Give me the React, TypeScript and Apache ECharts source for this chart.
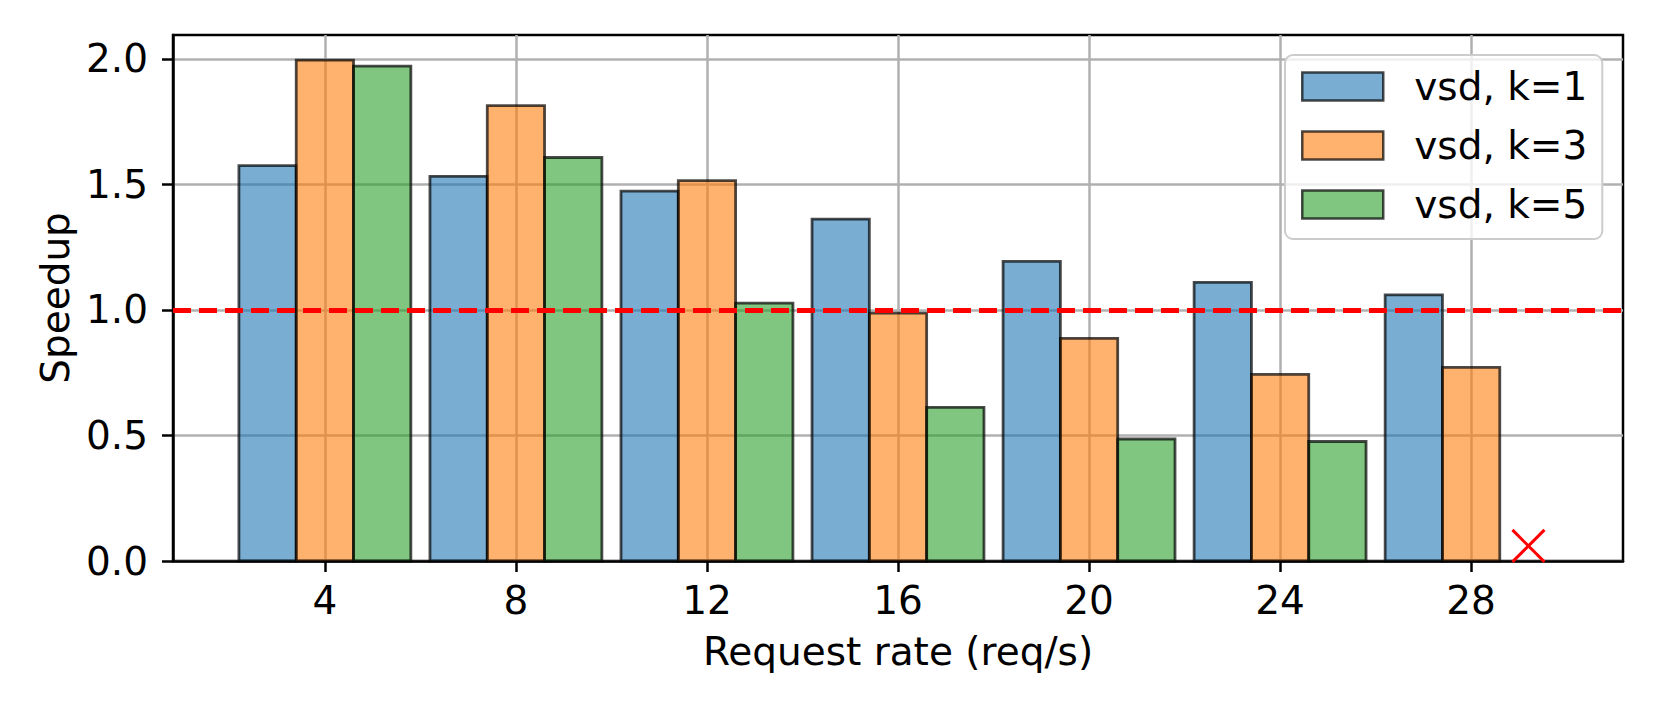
import React, { useEffect, useRef } from "react";
import * as echarts from "echarts";

// ---- data ----
const requestRates = [4, 8, 12, 16, 20, 24, 28];
const speedupK1 = [1.575, 1.532, 1.473, 1.362, 1.193, 1.11, 1.06];
const speedupK3 = [1.995, 1.814, 1.515, 0.987, 0.887, 0.743, 0.771];
const speedupK5: (number | null)[] = [1.971, 1.607, 1.027, 0.612, 0.486, 0.476, null];
const failedPoints = [[29.2, 0.06]];
const seriesNames = ["vsd, k=1", "vsd, k=3", "vsd, k=5"];
const xTicks = [4, 8, 12, 16, 20, 24, 28];
const yTicks = [0, 0.5, 1.0, 1.5, 2.0];
const baselineSpeedup = 1.0;

// ---- layout / style ----
const BAR_WIDTH = 1.2;
const BAR_OFFSETS = [-1.2, 0, 1.2];
const FILLS = ["rgba(31,119,180,0.6)", "rgba(255,127,14,0.6)", "rgba(44,160,44,0.6)"];
const EDGE = "rgba(0,0,0,0.7)";
const FONT = "DejaVu Sans";
const FS = 39;

function barSeries(name: string, values: (number | null)[], offset: number, fill: string) {
  const data: number[][] = [];
  requestRates.forEach((x, i) => {
    const v = values[i];
    if (v !== null && v !== undefined) data.push([x, v]);
  });
  return {
    type: "custom",
    name,
    data,
    encode: { x: 0, y: 1 },
    z: 2,
    renderItem: (_p: any, api: any) => {
      const x = api.value(0);
      const y = api.value(1);
      const a = api.coord([x + offset - BAR_WIDTH / 2, 0]);
      const b = api.coord([x + offset + BAR_WIDTH / 2, y]);
      return {
        type: "rect",
        shape: { x: a[0], y: b[1], width: b[0] - a[0], height: a[1] - b[1] },
        style: { fill, stroke: EDGE, lineWidth: 2.8 },
      };
    },
  };
}

export default function App() {
  const ref = useRef<HTMLDivElement>(null);
  useEffect(() => {
    if (!ref.current) return;
    const chart = echarts.init(ref.current, undefined, { renderer: "svg" });
    const tickLine = { color: "#000", width: 2.5 };
    const grid = { color: "#b0b0b0", width: 2.5 };
    chart.setOption({
      animation: false,
      backgroundColor: "#ffffff",
      textStyle: { fontFamily: FONT },
      grid: {
        left: 173,
        top: 35,
        width: 1450,
        height: 526,
        show: true,
        borderColor: "#000",
        borderWidth: 2.5,
        backgroundColor: "transparent",
      },
      legend: {
        orient: "vertical",
        left: 1285,
        top: 55,
        selectedMode: false,
        data: seriesNames.map((n, i) => ({
          name: n,
          icon: "rect",
          itemStyle: { color: FILLS[i], borderColor: EDGE, borderWidth: 2.5 },
        })),
        itemWidth: 81,
        itemHeight: 28,
        itemGap: 20,
        textStyle: { fontSize: FS, fontFamily: FONT, color: "#000", padding: [0, 0, 0, 26] },
        backgroundColor: "rgba(255,255,255,0.8)",
        borderColor: "#cccccc",
        borderWidth: 2,
        borderRadius: 8,
        padding: [12, 15, 15, 16],
      },
      xAxis: {
        type: "value",
        min: 0.82,
        max: 31.18,
        z: 1,
        name: "Request rate (req/s)",
        nameLocation: "middle",
        nameGap: 71,
        nameTextStyle: { fontSize: FS, fontFamily: FONT, color: "#000" },
        axisLine: { show: true, lineStyle: tickLine },
        axisTick: { show: true, length: 11, lineStyle: tickLine, customValues: xTicks },
        axisLabel: {
          fontSize: FS,
          fontFamily: FONT,
          color: "#000",
          margin: 20,
          customValues: xTicks,
          formatter: (v: number) => String(v),
        },
        splitLine: { show: true, lineStyle: grid },
      },
      yAxis: {
        type: "value",
        min: 0,
        max: 2.095,
        name: "Speedup",
        nameLocation: "middle",
        nameRotate: 90,
        nameGap: 97,
        nameTextStyle: { fontSize: FS, fontFamily: FONT, color: "#000" },
        axisLine: { show: true, lineStyle: tickLine },
        axisTick: { show: true, length: 11, lineStyle: tickLine, customValues: yTicks },
        axisLabel: {
          fontSize: FS,
          fontFamily: FONT,
          color: "#000",
          margin: 25,
          customValues: yTicks,
          formatter: (v: number) => v.toFixed(1),
        },
        splitLine: { show: true, lineStyle: grid },
      },
      series: [
        barSeries(seriesNames[0], speedupK1, BAR_OFFSETS[0], FILLS[0]),
        barSeries(seriesNames[1], speedupK3, BAR_OFFSETS[1], FILLS[1]),
        barSeries(seriesNames[2], speedupK5, BAR_OFFSETS[2], FILLS[2]),
        {
          type: "line",
          data: [],
          z: 5,
          silent: true,
          markLine: {
            silent: true,
            symbol: ["none", "none"],
            label: { show: false },
            lineStyle: { color: "#ff0000", width: 5, type: [18, 8] },
            data: [{ yAxis: baselineSpeedup }],
          },
        },
        {
          type: "custom",
          data: failedPoints,
          encode: { x: 0, y: 1 },
          z: 4,
          renderItem: (_p: any, api: any) => {
            const c = api.coord([api.value(0), api.value(1)]);
            const h = 16;
            const st = { stroke: "#ff0000", lineWidth: 3 };
            return {
              type: "group",
              children: [
                { type: "line", shape: { x1: c[0] - h, y1: c[1] - h, x2: c[0] + h, y2: c[1] + h }, style: st },
                { type: "line", shape: { x1: c[0] - h, y1: c[1] + h, x2: c[0] + h, y2: c[1] - h }, style: st },
              ],
            };
          },
        },
      ],
    });
    return () => chart.dispose();
  }, []);
  return (
    <div
      ref={ref}
      style={{ position: "fixed", left: 0, top: 0, width: 1659, height: 711, background: "#fff" }}
    />
  );
}
